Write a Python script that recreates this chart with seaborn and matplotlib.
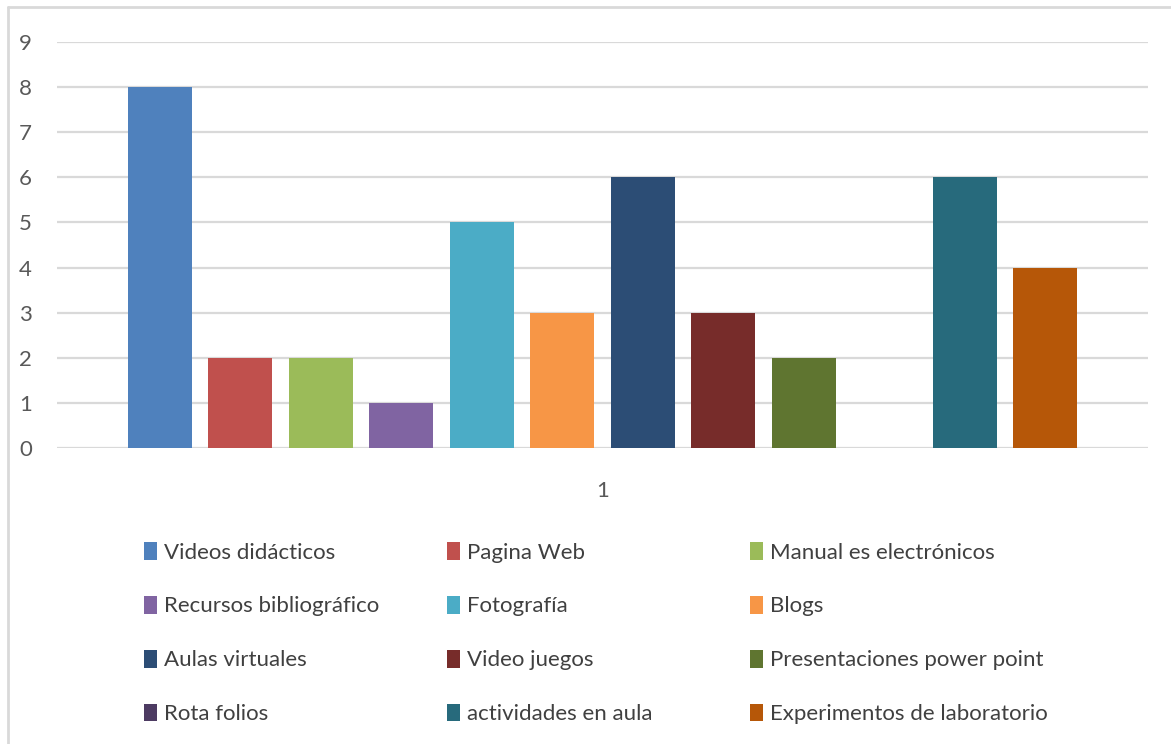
import matplotlib
matplotlib.use("Agg")
import matplotlib.pyplot as plt
from matplotlib.patches import Patch
from matplotlib.lines import Line2D
import seaborn as sns
import pandas as pd

# Recursos didácticos y frecuencia de uso
recursos = [
    "Videos didácticos", "Pagina Web", "Manual es electrónicos",
    "Recursos bibliográfico", "Fotografía", "Blogs",
    "Aulas virtuales", "Video juegos", "Presentaciones power point",
    "Rota folios", "actividades en aula", "Experimentos de laboratorio",
]
valores = [8, 2, 2, 1, 5, 3, 6, 3, 2, 0, 6, 4]
categoria = ["1"] * len(recursos)
colores = [
    "#4F81BD", "#C0504D", "#9BBB59", "#8064A2", "#4BACC6", "#F79646",
    "#2C4D75", "#772C2A", "#5F7530", "#4D3B62", "#276A7C", "#B65708",
]
y_ticks = list(range(0, 10))

df = pd.DataFrame({"grupo": categoria, "recurso": recursos, "valor": valores})

sns.set_theme(style="white")
plt.rcParams["font.family"] = ["Lato", "DejaVu Sans"]

W, H = 1171, 744
fig = plt.figure(figsize=(W / 100, H / 100), dpi=100)
ax = fig.add_axes([57 / W, 1 - 448 / H, (1148 - 57) / W, (448 - 42) / H])

sns.barplot(
    data=df, x="grupo", y="valor", hue="recurso", hue_order=recursos,
    palette=colores, width=0.8, gap=0.2, ax=ax, legend=False,
    saturation=1, edgecolor="none",
)

ax.set_ylim(0, 9)
ax.set_xlim(-0.4518, 0.4518)
ax.set_yticks(y_ticks)
ax.yaxis.grid(True, color="#d9d9d9", linewidth=1.6)
ax.set_axisbelow(True)
for s in ax.spines.values():
    s.set_visible(False)
ax.set_xlabel("")
ax.set_ylabel("")
ax.tick_params(axis="y", length=0, pad=18, labelsize=16, labelcolor="#595959")
ax.tick_params(axis="x", length=0, pad=24, labelsize=16, labelcolor="#595959")

# Leyenda en tres columnas, llenado por filas
col_x = [144, 447, 750]
for c in range(3):
    idx = list(range(c, len(recursos), 3))
    handles = [Patch(facecolor=colores[i], edgecolor="none") for i in idx]
    labels = [recursos[i] for i in idx]
    leg = fig.legend(
        handles, labels, loc="upper left",
        bbox_to_anchor=(col_x[c] / W, 1 - 542 / H),
        frameon=False, fontsize=16, labelcolor="#404040",
        handlelength=0.6, handleheight=0.85, handletextpad=0.3,
        labelspacing=1.5, borderaxespad=0, borderpad=0,
    )

# Marco exterior del gráfico
fig.add_artist(Line2D([8 / W, 8 / W], [0, 1 - 7 / H], color="#d9d9d9", linewidth=2,
                      transform=fig.transFigure))
fig.add_artist(Line2D([8 / W, 1], [1 - 7 / H, 1 - 7 / H], color="#d9d9d9", linewidth=2,
                      transform=fig.transFigure))

fig.savefig("out.png", dpi=100, facecolor="white")
